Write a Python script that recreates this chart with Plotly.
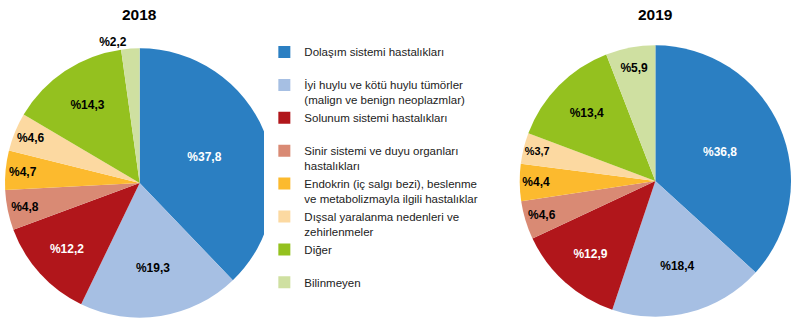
import plotly.graph_objects as go

categories = [
    "Dolaşım sistemi hastalıkları",
    "İyi huylu ve kötü huylu tümörler<br>(malign ve benign neoplazmlar)",
    "Solunum sistemi hastalıkları",
    "Sinir sistemi ve duyu organları<br>hastalıkları",
    "Endokrin (iç salgı bezi), beslenme<br>ve metabolizmayla ilgili hastalıklar",
    "Dışsal yaralanma nedenleri ve<br>zehirlenmeler",
    "Diğer",
    "Bilinmeyen",
]
values_2018 = [37.8, 19.3, 12.2, 4.8, 4.7, 4.6, 14.3, 2.2]
values_2019 = [36.8, 18.4, 12.9, 4.6, 4.4, 3.7, 13.4, 5.9]
colors = ["#2B7FC2", "#A6BFE3", "#B1161B", "#D98A74", "#FCBA2E", "#FCD9A1", "#94C11F", "#CFE0A1"]
text_colors = ["white", "black", "white", "black", "black", "black", "black", "black"]

# pad single-line legend entries so every entry occupies two lines
legend_labels = [c if "<br>" in c else c + "<br>&nbsp;" for c in categories]


def fmt(v):
    return "%" + f"{v:.1f}".replace(".", ",")


W, H = 798, 326
fig = go.Figure()

pos18 = ["inside"] * 7 + ["outside"]
fig.add_trace(go.Pie(
    labels=legend_labels, values=values_2018, sort=False, direction="clockwise",
    rotation=0, marker=dict(colors=colors, line=dict(width=0)),
    text=[fmt(v) for v in values_2018], textinfo="text", textposition=pos18,
    insidetextorientation="horizontal",
    insidetextfont=dict(family="Liberation Sans", size=12, color=text_colors, weight="bold"),
    outsidetextfont=dict(family="Liberation Sans", size=12, color="black", weight="bold"),
    domain=dict(x=[3 / W, 273 / W], y=[1 - 318 / H, 1 - 48 / H]),
    hoverinfo="label+value", showlegend=True,
))
fig.add_trace(go.Pie(
    labels=legend_labels, values=values_2019, sort=False, direction="clockwise",
    rotation=0, marker=dict(colors=colors, line=dict(width=0)),
    text=[fmt(v) for v in values_2019], textinfo="text", textposition="inside",
    insidetextorientation="horizontal",
    insidetextfont=dict(family="Liberation Sans", size=12, color=text_colors, weight="bold"),
    domain=dict(x=[519 / W, 791 / W], y=[1 - 317 / H, 1 - 45 / H]),
    hoverinfo="label+value", showlegend=False,
))

for year, cx in (("2018", 138), ("2019", 655)):
    fig.add_annotation(text=f"<b>{year}</b>", x=cx / W, y=1 - 15 / H, xref="paper", yref="paper",
                       xanchor="center", yanchor="middle", showarrow=False,
                       font=dict(family="Liberation Sans", size=15.5, color="black"))

fig.update_layout(
    width=W, height=H, margin=dict(l=0, r=0, t=0, b=0),
    paper_bgcolor="white", plot_bgcolor="white",
    legend=dict(x=263 / W, y=1 - 38 / H, xanchor="left", yanchor="top",
                font=dict(family="Liberation Sans", size=11.5, color="#222"),
                valign="top", itemwidth=30, traceorder="normal"),
)
fig.write_html("out.html")
